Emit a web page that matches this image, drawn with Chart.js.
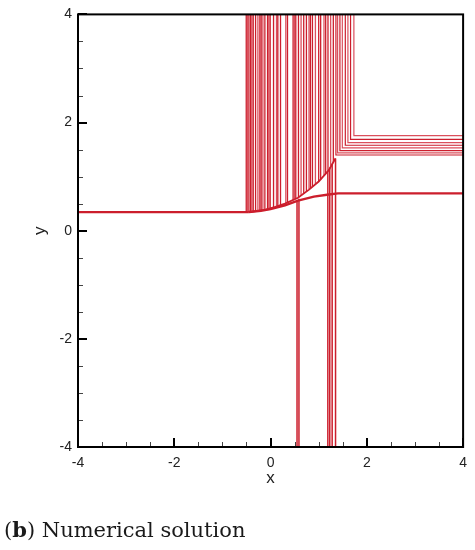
<!DOCTYPE html>
<html>
<head>
<meta charset="utf-8">
<script src="https://cdn.jsdelivr.net/npm/chart.js@4/dist/chart.umd.min.js"></script>
<style>
  html, body { margin: 0; padding: 0; background: #fff; }
  #wrap { position: relative; width: 475px; height: 550px; }
  #caption { position: absolute; left: 4px; top: 517px; font-family: "DejaVu Serif", serif; font-size: 21px; color: #1a1a1a; white-space: nowrap; }
</style>
</head>
<body>
<div id="wrap">
  <canvas id="c" width="475" height="550"></canvas>
  <div id="caption">(<b>b</b>) Numerical solution</div>
</div>
<script>
// ---- data ----
const axisTicks = [-4, -2, 0, 2, 4];
const flatLeftX = [-4, -0.45];
const flatLeftY = [0.345, 0.345];
// vertical characteristics rising from the front up to y = 4
const riseX = [-0.505,-0.476,-0.449,-0.414,-0.387,-0.360,-0.311,-0.263,-0.222,-0.195,-0.159,-0.118,-0.062,-0.035,-0.008,0.062,0.124,0.151,0.207,0.317,0.352,0.468,0.497,0.524,0.580,0.634,0.689,0.745,0.799,0.828,0.870,0.932,1.000,1.041,1.110,1.145,1.193,1.248,1.304];
const riseBase = [0.345,0.345,0.345,0.345,0.345,0.35,0.355,0.36,0.37,0.375,0.38,0.385,0.395,0.40,0.41,0.43,0.445,0.45,0.47,0.505,0.52,0.565,0.575,0.59,0.62,0.65,0.685,0.72,0.76,0.78,0.81,0.86,0.91,0.95,1.02,1.06,1.11,1.18,1.26];
// L-shaped characteristics: down from y = 4, then right to x = 4
const bendX = [1.358,1.393,1.441,1.491,1.553,1.607,1.662,1.731];
const bendY = [1.40,1.44,1.48,1.53,1.58,1.63,1.69,1.76];
// characteristics dropping to y = -4
const dropX = [0.55,0.59,1.19,1.23,1.28,1.35];
const dropTop = [0.57,0.59,1.11,1.17,1.24,1.33];
// upper front (envelope)
const upperX = [-0.45,-0.3,-0.1,0.1,0.3,0.57,0.8,1.0,1.21,1.35];
const upperY = [0.345,0.36,0.39,0.44,0.50,0.61,0.76,0.91,1.12,1.34];
// lower front, then flat to the right edge
const lowerX = [-0.45,-0.2,0,0.3,0.57,0.9,1.21,1.4,4];
const lowerY = [0.345,0.37,0.40,0.47,0.555,0.63,0.67,0.69,0.69];

const RED = 'rgb(204,30,44)';
const RED_L = 'rgba(210,36,52,0.8)';
const pts = (xs, ys) => xs.map((x, i) => ({x, y: ys[i]}));
const ds = (data, w, col) => ({data, showLine: true, borderColor: col || RED, borderWidth: w || 1, pointRadius: 0, fill: false, tension: 0});

const datasets = [];
riseX.forEach((x, i) => datasets.push(ds([{x, y: riseBase[i]}, {x, y: 4}], 1.3, i % 3 === 1 ? RED_L : RED)));
bendX.forEach((x, i) => datasets.push(ds([{x, y: 4}, {x, y: bendY[i]}, {x: 4, y: bendY[i]}], 1.2, i % 2 ? RED_L : RED)));
dropX.forEach((x, i) => datasets.push(ds([{x, y: dropTop[i]}, {x, y: -4}], 1.5)));
datasets.push(ds(pts(upperX, upperY), 1.8));
datasets.push(ds(pts(lowerX, lowerY), 2.4));
datasets.push(ds(pts(flatLeftX, flatLeftY), 2.2));

const tickFont = {family: '"Liberation Sans", Arial, sans-serif', size: 14};

const frameTicks = {
  id: 'frameTicks',
  afterDraw(chart) {
    const {ctx, chartArea: a, scales: {x, y}} = chart;
    ctx.save();
    ctx.strokeStyle = '#444'; ctx.lineWidth = 1;
    for (let v = -4; v <= 4.001; v += 0.5) {
      if (axisTicks.includes(v)) continue;
      const px = Math.round(x.getPixelForValue(v)) + 0.5;
      ctx.beginPath(); ctx.moveTo(px, a.bottom); ctx.lineTo(px, a.bottom - 5); ctx.stroke();
      const py = Math.round(y.getPixelForValue(v)) + 0.5;
      ctx.beginPath(); ctx.moveTo(a.left, py); ctx.lineTo(a.left + 5, py); ctx.stroke();
    }
    ctx.strokeStyle = '#000'; ctx.lineWidth = 2;
    axisTicks.forEach(v => {
      const px = Math.round(x.getPixelForValue(v));
      ctx.beginPath(); ctx.moveTo(px, a.bottom); ctx.lineTo(px, a.bottom - 9); ctx.stroke();
      const py = Math.round(y.getPixelForValue(v));
      ctx.beginPath(); ctx.moveTo(a.left, py); ctx.lineTo(a.left + 9, py); ctx.stroke();
    });
    ctx.lineWidth = 2; ctx.strokeStyle = '#000';
    ctx.strokeRect(a.left, a.top, a.right - a.left, a.bottom - a.top);
    ctx.restore();
  }
};

new Chart(document.getElementById('c'), {
  type: 'scatter',
  data: {datasets},
  options: {
    responsive: false,
    animation: false,
    events: [],
    layout: {padding: {left: 0, top: 13, right: 11, bottom: 58}},
    plugins: {legend: {display: false}, tooltip: {enabled: false}},
    scales: {
      x: {
        type: 'linear', min: -4, max: 4,
        afterBuildTicks: s => { s.ticks = axisTicks.map(v => ({value: v})); },
        afterFit: s => { s.height = 45; },
        grid: {display: false, drawTicks: false},
        border: {display: false},
        ticks: {font: tickFont, color: '#222', padding: 8, maxRotation: 0},
        title: {display: true, text: 'x', font: {family: '"Liberation Sans", Arial, sans-serif', size: 17}, color: '#222', padding: {top: 0, bottom: 3}}
      },
      y: {
        type: 'linear', min: -4, max: 4,
        afterBuildTicks: s => { s.ticks = axisTicks.map(v => ({value: v})); },
        afterFit: s => { s.width = 78; },
        grid: {display: false, drawTicks: false},
        border: {display: false},
        ticks: {font: tickFont, color: '#222', padding: 6},
        title: {display: true, text: 'y', font: {family: '"Liberation Sans", Arial, sans-serif', size: 17}, color: '#222', padding: {top: 30, bottom: 0}}
      }
    }
  },
  plugins: [frameTicks]
});
</script>
</body>
</html>
